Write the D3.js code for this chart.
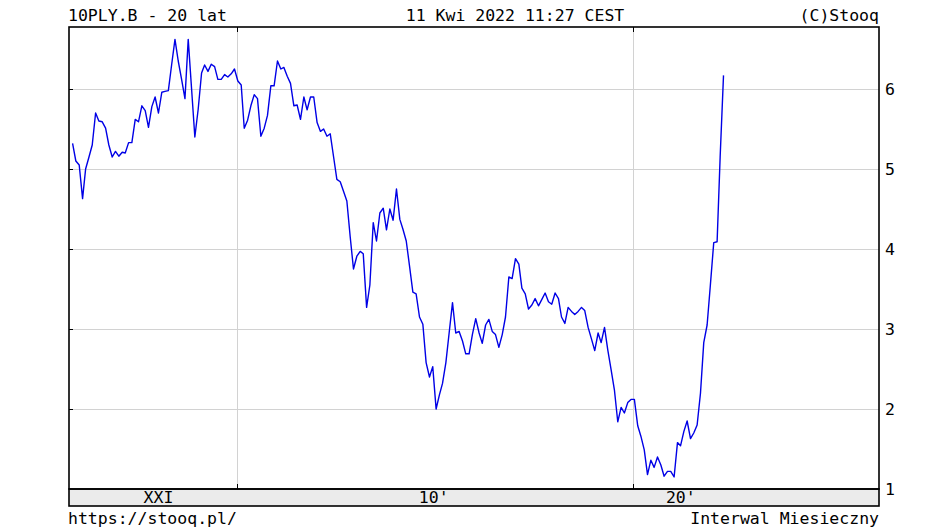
<!DOCTYPE html>
<html><head><meta charset="utf-8">
<script src="https://cdn.jsdelivr.net/npm/d3@7"></script>
<style>
body{margin:0;background:#fff}
svg{display:block}
text{font-family:"DejaVu Sans Mono",monospace;font-size:16.5px;fill:#000}
</style>
</head><body>
<svg id="c" width="946" height="530"></svg>
<script>
// ---- data ----
const titleLeft = "10PLY.B - 20 lat";
const titleCenter = "11 Kwi 2022 11:27 CEST";
const titleRight = "(C)Stooq";
const footLeft = "https://stooq.pl/";
const footRight = "Interwal Miesieczny";

const firstMonth = [2005, 10]; // November 2005 (year, 0-based month)
const values = [
 5.32,5.10,5.05,4.63,5.00,5.15,5.30,5.70,5.60,5.59,
 5.51,5.30,5.15,5.22,5.16,5.21,5.20,5.33,5.33,5.62,
 5.59,5.79,5.73,5.52,5.78,5.90,5.70,5.96,5.97,5.98,
 6.30,6.62,6.35,6.12,5.88,6.62,6.00,5.40,5.75,6.20,
 6.30,6.22,6.31,6.28,6.12,6.12,6.18,6.15,6.19,6.25,
 6.10,6.05,5.51,5.61,5.79,5.93,5.88,5.41,5.51,5.67,
 6.04,6.04,6.35,6.25,6.27,6.16,6.07,5.79,5.80,5.62,
 5.90,5.74,5.90,5.90,5.58,5.47,5.50,5.41,5.44,5.15,
 4.87,4.84,4.72,4.60,4.15,3.75,3.91,3.97,3.94,3.27,
 3.55,4.33,4.10,4.45,4.51,4.24,4.50,4.36,4.75,4.37,
 4.25,4.10,3.79,3.46,3.44,3.15,3.06,2.58,2.40,2.53,
 2.00,2.18,2.32,2.58,2.95,3.33,2.95,2.97,2.85,2.69,
 2.69,2.93,3.13,2.95,2.82,3.05,3.12,2.97,2.93,2.77,
 2.93,3.15,3.65,3.63,3.88,3.81,3.51,3.44,3.25,3.30,
 3.38,3.29,3.37,3.45,3.34,3.31,3.45,3.38,3.15,3.07,
 3.27,3.22,3.18,3.22,3.27,3.23,3.02,2.88,2.73,2.95,
 2.83,3.02,2.74,2.49,2.24,1.84,2.02,1.95,2.08,2.12,
 2.12,1.79,1.66,1.49,1.18,1.36,1.27,1.40,1.30,1.16,
 1.22,1.22,1.15,1.58,1.54,1.72,1.85,1.63,1.70,1.80,
 2.20,2.83,3.05,3.55,4.08,4.09,5.15,6.17
];
const yTicks = [1, 2, 3, 4, 5, 6];
const yDomain = [1, 6.775];
const xDomain = ["2005-09-29", "2026-03-03"];
const gridDates = ["2010-01-01", "2020-01-01"];
const bandLabels = ["XXI", "10'", "20'"];
const bandLabelDates = ["2008-01-01", "2014-12-10", "2021-03-04"];

// ---- layout ----
const L = 69, R = 879, T = 27, B = 489, BandB = 506;

const svg = d3.select("#c");
const parse = s => new Date(s + "T00:00:00Z");

const x = d3.scaleUtc().domain(xDomain.map(parse)).range([L, R]);
const y = d3.scaleLinear().domain(yDomain).range([B, T]);

const data = values.map((v, i) => ({
  date: d3.utcMonth.offset(new Date(Date.UTC(firstMonth[0], firstMonth[1], 1)), i),
  v
}));

// background
svg.append("rect").attr("width", 946).attr("height", 530).attr("fill", "#fff");

// horizontal grid
const gy = svg.append("g");
yTicks.filter(t => t > yDomain[0]).forEach(t => {
  const yy = Math.round(y(t)) + 0.5;
  gy.append("line").attr("x1", L).attr("x2", R).attr("y1", yy).attr("y2", yy)
    .attr("stroke", "#d2d2d2").attr("stroke-width", 1);
  gy.append("line").attr("x1", L).attr("x2", L + 4).attr("y1", yy).attr("y2", yy)
    .attr("stroke", "#000").attr("stroke-width", 1);
});

// vertical grid
gridDates.map(parse).forEach(d => {
  const xx = Math.round(x(d)) - 0.5;
  gy.append("line").attr("x1", xx).attr("x2", xx).attr("y1", T).attr("y2", B)
    .attr("stroke", "#d2d2d2").attr("stroke-width", 1);
  gy.append("line").attr("x1", xx).attr("x2", xx).attr("y1", T).attr("y2", T + 5)
    .attr("stroke", "#000").attr("stroke-width", 1);
  gy.append("line").attr("x1", xx).attr("x2", xx).attr("y1", B - 5).attr("y2", B)
    .attr("stroke", "#000").attr("stroke-width", 1);
});

// data line
const line = d3.line().x(d => x(d.date)).y(d => y(d.v));
svg.append("path").datum(data).attr("d", line)
  .attr("fill", "none").attr("stroke", "#0000e6").attr("stroke-width", 1.4)
  .attr("stroke-linejoin", "round");

// bottom band
svg.append("rect").attr("x", L).attr("y", B).attr("width", R - L).attr("height", BandB - B)
  .attr("fill", "#ebebeb").attr("stroke", "#000").attr("stroke-width", 1.6);

// frame
svg.append("rect").attr("x", L).attr("y", T).attr("width", R - L).attr("height", B - T)
  .attr("fill", "none").attr("stroke", "#000").attr("stroke-width", 1.6);

// band labels
bandLabels.forEach((lab, i) => {
  svg.append("text").attr("x", x(parse(bandLabelDates[i]))).attr("y", 503)
    .attr("text-anchor", "middle").text(lab);
});

// right y axis
const ax = svg.append("g").attr("transform", `translate(${R},0)`)
  .call(d3.axisRight(y).tickValues(yTicks).tickSize(0).tickPadding(6).tickFormat(d3.format("d")));
ax.select(".domain").remove();
ax.selectAll("text").attr("font-family", null).attr("font-size", null)
  .style("font-family", "DejaVu Sans Mono").style("font-size", "16.5px").attr("fill", "#000");

// titles
svg.append("text").attr("x", L - 1).attr("y", 21).text(titleLeft);
svg.append("text").attr("x", 515).attr("y", 21).attr("text-anchor", "middle").text(titleCenter);
svg.append("text").attr("x", R).attr("y", 21).attr("text-anchor", "end").text(titleRight);
svg.append("text").attr("x", L - 1).attr("y", 524).text(footLeft);
svg.append("text").attr("x", R).attr("y", 524).attr("text-anchor", "end").text(footRight);
</script>
</body></html>
